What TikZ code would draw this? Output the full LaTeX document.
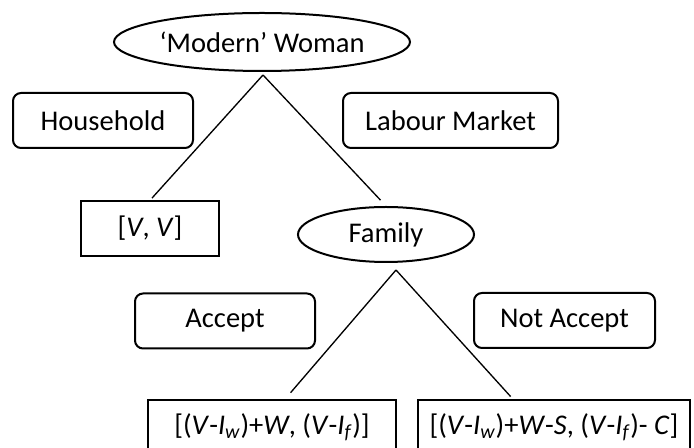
\documentclass[tikz,border=0pt]{standalone}
\usepackage{fontspec}
\setmainfont{Carlito}
\usetikzlibrary{shapes.geometric}

\begin{document}
\begin{tikzpicture}[x=0.75pt, y=-0.75pt, font=\fontsize{21.4pt}{25pt}\selectfont,
    player/.style={draw, ellipse, line width=1.5pt, inner xsep=-4pt, inner ysep=0pt},
    choice/.style={draw, line width=1.5pt, rounded corners=6pt, minimum height=41.25pt},
    payoff/.style={draw, line width=1.3pt, minimum height=41pt},
    branch/.style={line width=1pt}]

        \useasboundingbox (0,0) rectangle (694,448);

        % Decision nodes
        \node[player, minimum width=222pt, minimum height=43.5pt] (woman) at (262, 42) {‘Modern’ Woman};
        \node[player, minimum width=132pt, minimum height=41.25pt] (family) at (386, 234.5) {Family};

        % Branch labels
        \node[choice, minimum width=135pt] (household) at (103, 120.5) {Household};
        \node[choice, minimum width=161.25pt] (labour) at (450.5, 120.5) {Labour Market};
        \node[choice, minimum width=135pt] (accept) at (225, 321) {Accept};
        \node[choice, minimum width=135.75pt] (notaccept) at (564.5, 320.5) {Not Accept};

        % Payoffs
        \node[payoff, minimum width=103.5pt] (vv) at (150, 228.5) {[\textit{V}, \textit{V}]};
        \node[payoff, minimum width=186pt] (acc) at (272, 427) {[(\textit{V}-\textit{I}\textsubscript{\textit{w}})+\textit{W}, (\textit{V}-\textit{I}\textsubscript{\textit{f}})]};
        \node[payoff, minimum width=204pt] (rej) at (554, 427) {[(\textit{V}-\textit{I}\textsubscript{\textit{w}})+\textit{W}-\textit{S}, (\textit{V}-\textit{I}\textsubscript{\textit{f}})- \textit{C}]};

        % Branch points
        \coordinate (wsplit) at (263, 75);
        \coordinate (fsplit) at (396, 270);

        % Draw Branches
        \draw[branch, shorten >=2.25pt] (wsplit) -- (vv.north);
        \draw[branch, shorten >=6pt] (wsplit) -- (family.north);
        \draw[branch, shorten >=6pt] (fsplit) -- ([xshift=10pt]acc.north);
        \draw[branch, shorten >=2.25pt] (fsplit) -- ([xshift=-31pt]rej.north);

    \end{tikzpicture}
\end{document}
